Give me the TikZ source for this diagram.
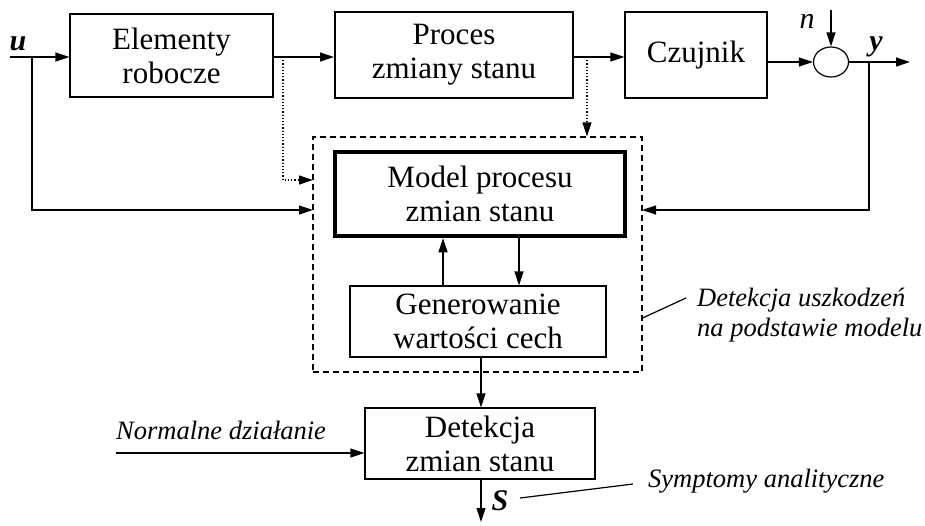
\documentclass[tikz,border=0pt]{standalone}
\usepackage{fontspec}
\setmainfont{Liberation Serif}
\usetikzlibrary{arrows.meta,shapes.geometric}
\begin{document}
\begin{tikzpicture}[x=1pt,y=-1pt,
  boxtext/.style={font=\fontsize{31}{34}\selectfont},
  block/.style={draw,line width=1.2pt,align=center,inner sep=0pt,boxtext},
  note/.style={font=\fontsize{26.5}{30}\selectfont\itshape,align=left,inner sep=0pt},
  sig/.style={font=\fontsize{30}{33}\selectfont\bfseries\itshape,inner sep=0pt},
  arrow/.style={line width=1.2pt,-{Triangle[length=14pt,width=9pt]}},
  wire/.style={line width=1.2pt},
  dotarrow/.style={line width=1.2pt,dotted,-{Triangle[length=14pt,width=9pt]}}
]
\useasboundingbox (0,0) rectangle (925,525);

% main blocks of the loop
\node[block,minimum width=203pt,minimum height=83pt] (elem) at (171.5,55.5) {Elementy\\robocze};
\node[block,line width=2pt,minimum width=238pt,minimum height=86pt] (proc) at (454,55) {Proces\\zmiany stanu};
\node[block,minimum width=142pt,minimum height=86pt] (czuj) at (696,55) {Czujnik};
\node[draw,line width=1.2pt,ellipse,minimum width=35pt,minimum height=30pt,inner sep=0pt] (sum) at (831,62) {};

% model-based detection group
\node[draw,dashed,dash pattern=on 6pt off 4pt,line width=1.2pt,minimum width=329pt,minimum height=235pt,inner sep=0pt] (grp) at (477.5,254.5) {};
\node[block,line width=4.5pt,minimum width=290pt,minimum height=84pt] (model) at (480,194) {Model procesu\\zmian stanu};
\node[block,minimum width=256pt,minimum height=71pt] (gen) at (478,321.5) {Generowanie\\wartości cech};
\node[block,minimum width=230pt,minimum height=71pt] (det) at (480,443.5) {Detekcja\\zmian stanu};

% free ends and branch points
\coordinate (uin) at (10,57);
\coordinate (ub) at (32,57);
\coordinate (uto) at (313,210);
\coordinate (eb) at (283,57);
\coordinate (eto) at (313,180);
\coordinate (pb) at (587,57);
\coordinate (nin) at (831,10);
\coordinate (yb) at (869,62);
\coordinate (yout) at (910,62);
\coordinate (yto) at (642,210);
\coordinate (normin) at (116,453);
\coordinate (sout) at (481,522);

% signal flow
\draw[arrow] (uin) -- (uin -| elem.west);
\draw[arrow] (ub) |- (uto);
\draw[arrow] (elem.east |- 0,57) -- (proc.west |- 0,57);
\draw[dotarrow] (eb) |- (eto);
\draw[arrow] (proc.east |- 0,57) -- (czuj.west |- 0,57);
\draw[dotarrow] (pb) -- (pb |- grp.north);
\draw[arrow] (czuj.east |- sum.west) -- (sum.west);
\draw[arrow] (nin) -- (sum.north);
\draw[arrow] (sum.east) -- (yout);
\draw[arrow] (yb) |- (yto);
\draw[arrow] (gen.north -| 443,0) -- (model.south -| 443,0);
\draw[arrow] (model.south -| 519,0) -- (gen.north -| 519,0);
\draw[arrow] (gen.south -| 481,0) -- (det.north -| 481,0);
\draw[arrow] (normin) -- (normin -| det.west);
\draw[arrow] (det.south -| sout) -- (sout);

% signal names
\node[sig] (lu) at (18,44) {u};
\node[sig,font=\fontsize{30}{33}\selectfont\itshape] (ln) at (807,21) {n};
\node[sig,anchor=base] (ly) at (876,50) {y};
\node[sig] (lS) at (500,501) {S};

% annotations
\node[note,anchor=west] (lnorm) at (116,430) {Normalne działanie};
\node[note,anchor=west] (lgrp) at (697,315) {Detekcja uszkodzeń\\na podstawie modelu};
\node[note,anchor=west] (lsym) at (648,481) {Symptomy analityczne};
\draw[wire] (grp.east |- 0,318) -- (686,298);
\draw[wire] (520,498) -- (633,484);
\end{tikzpicture}
\end{document}
